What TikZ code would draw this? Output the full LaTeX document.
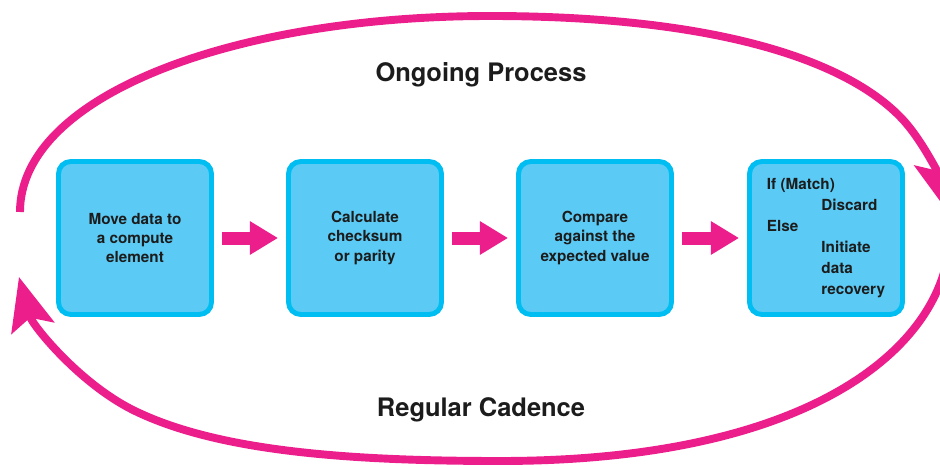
\documentclass[tikz,border=0pt]{standalone}
\usepackage{fontspec}
\setmainfont{TeX Gyre Heros}
\usetikzlibrary{arrows.meta}
\definecolor{loopmagenta}{RGB}{236,30,140}
\definecolor{stageedge}{RGB}{0,190,242}
\definecolor{stagefill}{RGB}{91,203,245}
\definecolor{ink}{RGB}{28,28,28}
\tikzset{
  stage/.style={draw=stageedge, fill=stagefill, line width=2.8pt,
    rounded corners=7pt, minimum width=3.06cm, minimum height=3.06cm,
    inner sep=0pt, align=center, text=ink,
    font=\bfseries\fontsize{8.7}{11}\selectfont},
  push/.style={draw=loopmagenta, line width=7.4pt,
    -{Triangle[length=16pt,width=18pt]}, shorten <=0.16cm, shorten >=0.16cm},
  loopline/.style={draw=loopmagenta, line width=4.5pt,
    -{Stealth[length=30pt,width=25pt,inset=6pt]}},
  banner/.style={text=ink, font=\bfseries\fontsize{14.5}{17}\selectfont}
}
\begin{document}
\begin{tikzpicture}[x=0.02cm,y=-0.02cm]
  \useasboundingbox (0,0) rectangle (940,466);
  \clip (0,0) rectangle (940,466);
  \draw
    (135,238) node[stage] (move){Move data to\\a compute\\element}
    (365,238) node[stage] (checksum){Calculate\\checksum\\or parity}
    (595,238) node[stage] (compare){Compare\\against the\\expected value}
    (826,238) node[stage, font=\bfseries\fontsize{8.7}{11.9}\selectfont,
      align=left] (decide){If (Match)\\\hspace*{31pt}Discard\\Else\\
      \hspace*{31pt}Initiate\\\hspace*{31pt}data\\\hspace*{31pt}recovery};
  \node[banner] (ongoing) at (481,75) {Ongoing Process};
  \node[banner] (cadence) at (481,410) {Regular Cadence};
  \begin{scope}[push]
    \draw (move) to (checksum);
    \draw (checksum) to (compare);
    \draw (compare) to (decide);
  \end{scope}
  % the loop round the row, in two halves
  \coordinate (topstart) at (20,212);
  \coordinate (toptip) at (948,212);
  \coordinate (lowstart) at (950,225);
  \coordinate (lowtip) at (19,277);
  \draw[loopline] (topstart) .. controls (20,95) and (235,16) .. (490,16)
    .. controls (715,16) and (850,60) .. (905,122)
    .. controls (925,145) and (940,178) .. (toptip);
  \draw[loopline] (lowstart) .. controls (955,340) and (820,461) .. (500,461)
    .. controls (340,461) and (214,450) .. (133,410)
    .. controls (79,383) and (32,325) .. (lowtip);
\end{tikzpicture}
\end{document}
